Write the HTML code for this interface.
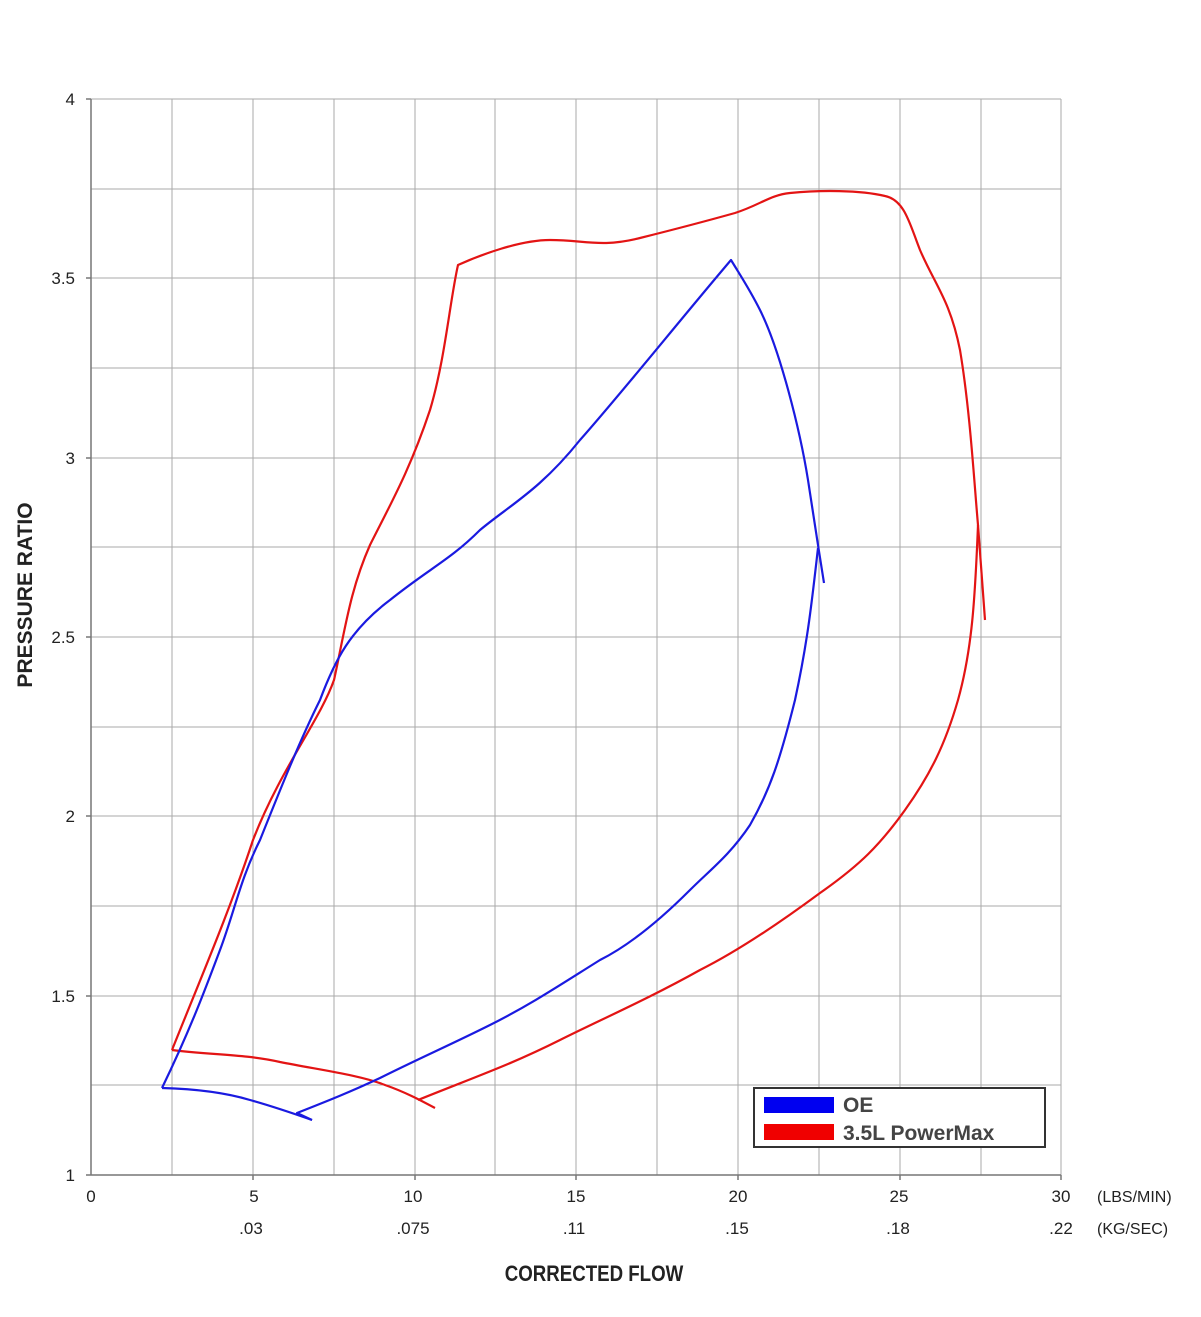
<!DOCTYPE html>
<html><head><meta charset="utf-8"><style>
html,body{margin:0;padding:0;background:#fff}
svg{display:block}
text{font-family:"Liberation Sans",Arial,sans-serif;fill:#222}
</style></head><body>
<svg width="1201" height="1317" viewBox="0 0 1201 1317" xmlns="http://www.w3.org/2000/svg">
<g stroke="#aaa" stroke-width="1" fill="none">
<line x1="172" y1="99" x2="172" y2="1175"/><line x1="253" y1="99" x2="253" y2="1175"/>
<line x1="334" y1="99" x2="334" y2="1175"/><line x1="415" y1="99" x2="415" y2="1175"/>
<line x1="495" y1="99" x2="495" y2="1175"/><line x1="576" y1="99" x2="576" y2="1175"/>
<line x1="657" y1="99" x2="657" y2="1175"/><line x1="738" y1="99" x2="738" y2="1175"/>
<line x1="819" y1="99" x2="819" y2="1175"/><line x1="900" y1="99" x2="900" y2="1175"/>
<line x1="981" y1="99" x2="981" y2="1175"/><line x1="1061" y1="99" x2="1061" y2="1175"/>
<line x1="91" y1="99" x2="1061" y2="99"/><line x1="91" y1="189" x2="1061" y2="189"/>
<line x1="91" y1="278" x2="1061" y2="278"/><line x1="91" y1="368" x2="1061" y2="368"/>
<line x1="91" y1="458" x2="1061" y2="458"/><line x1="91" y1="547" x2="1061" y2="547"/>
<line x1="91" y1="637" x2="1061" y2="637"/><line x1="91" y1="727" x2="1061" y2="727"/>
<line x1="91" y1="816" x2="1061" y2="816"/><line x1="91" y1="906" x2="1061" y2="906"/>
<line x1="91" y1="996" x2="1061" y2="996"/><line x1="91" y1="1085" x2="1061" y2="1085"/>
</g>
<g stroke="#777" stroke-width="1.5">
<line x1="91" y1="99" x2="91" y2="1175"/><line x1="86" y1="1175" x2="1061" y2="1175"/>
<line x1="86" y1="99" x2="91" y2="99"/><line x1="86" y1="278" x2="91" y2="278"/><line x1="86" y1="458" x2="91" y2="458"/>
<line x1="86" y1="637" x2="91" y2="637"/><line x1="86" y1="816" x2="91" y2="816"/><line x1="86" y1="996" x2="91" y2="996"/>
<line x1="253" y1="1175" x2="253" y2="1180"/><line x1="415" y1="1175" x2="415" y2="1180"/><line x1="576" y1="1175" x2="576" y2="1180"/>
<line x1="738" y1="1175" x2="738" y2="1180"/><line x1="900" y1="1175" x2="900" y2="1180"/><line x1="1061" y1="1175" x2="1061" y2="1180"/>
</g>
<g font-size="17" text-anchor="end">
<text x="75" y="105">4</text><text x="75" y="284">3.5</text><text x="75" y="464">3</text>
<text x="75" y="643">2.5</text><text x="75" y="822">2</text><text x="75" y="1002">1.5</text><text x="75" y="1181">1</text>
</g>
<g font-size="17" text-anchor="middle">
<text x="91" y="1202">0</text><text x="254" y="1202">5</text><text x="413" y="1202">10</text><text x="576" y="1202">15</text>
<text x="738" y="1202">20</text><text x="899" y="1202">25</text><text x="1061" y="1202">30</text>
<text x="251" y="1234">.03</text><text x="413" y="1234">.075</text><text x="574" y="1234">.11</text>
<text x="737" y="1234">.15</text><text x="898" y="1234">.18</text><text x="1061" y="1234">.22</text>
</g>
<text x="1097" y="1202" font-size="16">(LBS/MIN)</text>
<text x="1097" y="1234" font-size="16">(KG/SEC)</text>
<text x="594" y="1281" font-size="22" font-weight="bold" text-anchor="middle" transform="translate(594 1281) scale(0.85 1) translate(-594 -1281)">CORRECTED FLOW</text>
<text transform="translate(32 595) rotate(-90)" font-size="21" font-weight="bold" text-anchor="middle">PRESSURE RATIO</text>
<g fill="none" stroke-width="2.2" stroke-linejoin="round">
<path stroke="#e31414" d="M172,1050 C200,980 230,910 253,840 C280,770 320,720 334,680 C345,630 350,590 370,545 C390,505 410,470 430,410 C445,360 450,300 458,265 C480,255 520,240 550,240 C585,240 600,248 640,238 C680,228 710,220 735,213 C760,205 770,195 790,193 C820,190 860,190 885,196 C905,200 910,225 920,250 C935,285 950,300 960,350 C970,410 974,480 978,525 L985,620"/>
<path stroke="#e31414" d="M978,525 C975,600 972,650 958,700 C945,745 930,775 905,810 C880,845 860,865 820,893 C770,930 730,955 700,970 C650,998 600,1020 560,1040 C510,1065 480,1075 418,1100"/>
<path stroke="#e31414" d="M172,1050 C210,1055 245,1054 280,1062 C320,1070 360,1075 385,1085 C405,1092 420,1100 435,1108"/>
<path stroke="#1a1ae0" d="M162,1088 C190,1030 205,990 220,950 C235,910 240,880 260,840 C280,790 300,740 320,700 C335,660 350,630 390,600 C430,568 450,560 480,530 C510,505 540,490 580,440 C620,395 680,320 731,260 C742,278 750,290 760,310 C780,350 800,430 808,480 L818,545 L824,583"/>
<path stroke="#1a1ae0" d="M818,548 C812,600 808,640 795,700 C780,760 770,790 750,825 C730,855 710,870 690,890 C660,920 630,945 600,960 C560,985 530,1005 490,1025 C450,1045 420,1058 380,1078 C350,1092 330,1100 297,1113 L312,1120"/>
<path stroke="#1a1ae0" d="M162,1088 C200,1089 230,1094 250,1100 C275,1107 295,1114 312,1120"/>
</g>
<rect x="754" y="1088" width="291" height="59" fill="#fff" stroke="#333" stroke-width="2"/>
<rect x="764" y="1097" width="70" height="16" fill="#0000f0"/>
<rect x="764" y="1124" width="70" height="16" fill="#f00000"/>
<text x="843" y="1112" font-size="21" font-weight="bold" style="fill:#444">OE</text>
<text x="843" y="1140" font-size="21" font-weight="bold" style="fill:#444">3.5L PowerMax</text>
</svg>
</body></html>
